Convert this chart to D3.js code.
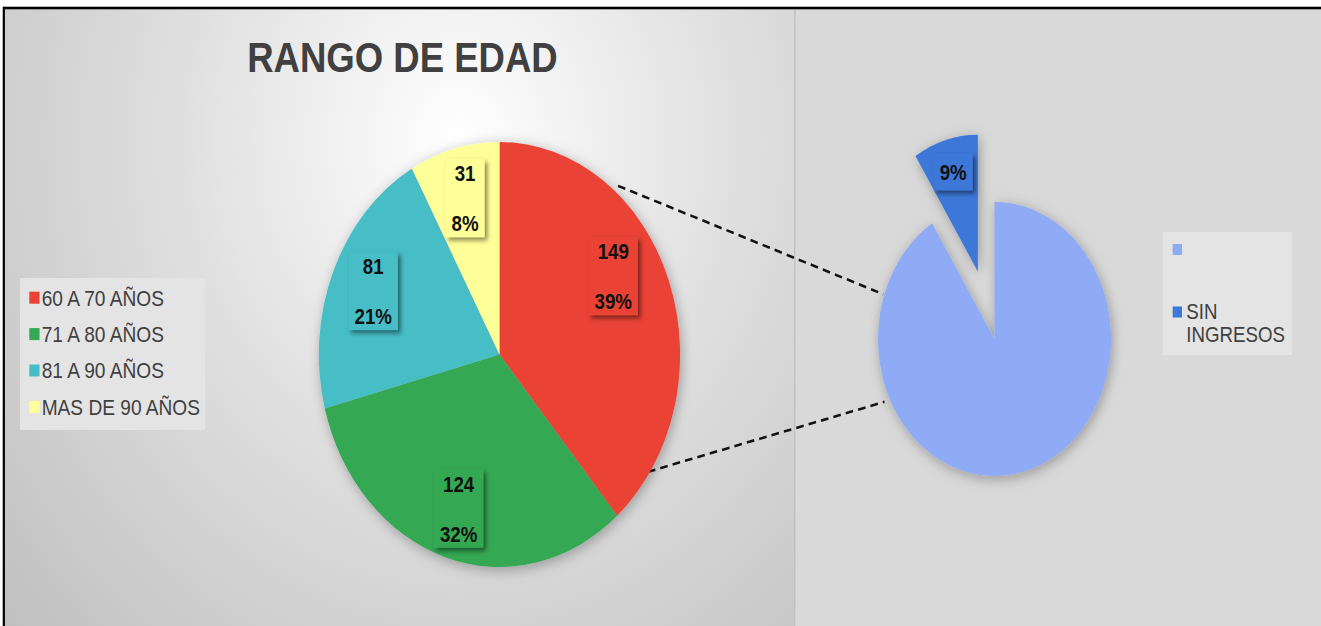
<!DOCTYPE html>
<html>
<head>
<meta charset="utf-8">
<script src="https://cdn.jsdelivr.net/npm/d3@7"></script>
<style>
body{margin:0;background:#fff;}
svg{display:block;font-family:"Liberation Sans",Arial,sans-serif;}
</style>
</head>
<body>
<div id="chart"></div>
<script>
// data
var title="RANGO DE EDAD";
var categories=["60 A 70 AÑOS","71 A 80 AÑOS","81 A 90 AÑOS","MAS DE 90 AÑOS"];
var counts=[149,124,81,31];
var colors=["#ea4335","#34a853","#46bdc6","#ffff99"];
var subNames=["","SIN INGRESOS"];
var subValues=[91,9];
var subColors=["#8fabf5","#3c78d8"];
var subShowLabel=[false,true];

var width=1321,height=626;
var sx=0.85;               // whole picture is squeezed horizontally
var lw=width/sx;           // logical width
var divx=935;
var main={cx:587.6,cy:354.5,r:212.5};
var sub={cx:1170,cy:339,r:137,explode:70};
var deg=Math.PI/180;

var svg=d3.select("#chart").append("svg")
	.attr("width",width).attr("height",height);
var defs=svg.append("defs");

var grad=defs.append("radialGradient").attr("id","bgleft")
	.attr("gradientUnits","userSpaceOnUse")
	.attr("cx",540).attr("cy",140).attr("r",720);
grad.append("stop").attr("offset",0).attr("stop-color","#ffffff");
grad.append("stop").attr("offset",0.45).attr("stop-color","#e0e0e0");
grad.append("stop").attr("offset",1).attr("stop-color","#c0c0c0");

var fpie=defs.append("filter").attr("id","pieshadow")
	.attr("x","-20%").attr("y","-20%").attr("width","140%").attr("height","140%");
fpie.append("feDropShadow").attr("dx",2).attr("dy",3).attr("stdDeviation",7)
	.attr("flood-color","#000").attr("flood-opacity",0.3);
var flab=defs.append("filter").attr("id","labshadow")
	.attr("x","-30%").attr("y","-30%").attr("width","170%").attr("height","170%");
flab.append("feDropShadow").attr("dx",3).attr("dy",3).attr("stdDeviation",2.4)
	.attr("flood-color","#000").attr("flood-opacity",0.5);

var g=svg.append("g").attr("transform","scale("+sx+",1)");

//==================backgrounds=======================
g.append("rect").attr("x",5.5).attr("y",9).attr("width",divx-5.5).attr("height",height)
	.attr("fill","url(#bgleft)");
g.append("rect").attr("x",divx).attr("y",9).attr("width",lw-divx).attr("height",height)
	.attr("fill","#d9d9d9");
g.append("line").attr("x1",divx).attr("x2",divx).attr("y1",9).attr("y2",height)
	.attr("stroke","#bdbdbd").attr("stroke-width",1.5);
g.append("rect").attr("x",4.5).attr("y",8).attr("width",lw+60).attr("height",height+60)
	.attr("fill","none").attr("stroke","#000").attr("stroke-width",2.6);

//==================title=======================
g.append("text").attr("x",473.5).attr("y",72).attr("text-anchor","middle")
	.attr("font-size",43).attr("font-weight","bold").attr("fill","#404040")
	.text(title);

function pt(c,r,a){return [c.cx+r*Math.sin(a),c.cy-r*Math.cos(a)];}

//==================connector lines=======================
var conn=[[pt(main,main.r*1.03,39.6*deg),pt(sub,sub.r*1.01,288.9*deg)],
	[pt(main,main.r*0.99,123.9*deg),pt(sub,sub.r*1.05,244.1*deg)]];
g.selectAll("line.conn").data(conn).enter().append("line").attr("class","conn")
	.attr("x1",function(d){return d[0][0];}).attr("y1",function(d){return d[0][1];})
	.attr("x2",function(d){return d[1][0];}).attr("y2",function(d){return d[1][1];})
	.attr("stroke","#111").attr("stroke-width",2.6).attr("stroke-dasharray","9,6");

//==================main pie=======================
var total=d3.sum(counts);
var pie=d3.pie().sort(null);
var arcs=pie(counts);
var arc=d3.arc().innerRadius(0).outerRadius(main.r);
var larc=d3.arc().innerRadius(main.r*0.76).outerRadius(main.r*0.76);

var mg=g.append("g").attr("transform","translate("+main.cx+","+main.cy+")");
mg.append("g").attr("filter","url(#pieshadow)").selectAll("path").data(arcs)
	.enter().append("path")
	.attr("d",arc).attr("fill",function(d,i){return colors[i];});

function drawLabel(parent,pos,lines,fill){
	var lg=parent.append("g").attr("transform","translate("+pos[0]+","+pos[1]+")");
	var box=lg.append("rect").attr("fill",fill).attr("filter","url(#labshadow)");
	var n=lines.length,gap=50;
	var ts=lines.map(function(s,k){
		return lg.append("text").attr("text-anchor","middle")
			.attr("y",(k-(n-1)/2)*gap+8)
			.attr("font-size",22).attr("font-weight","bold").attr("fill","#111")
			.text(s);
	});
	var w=d3.max(ts,function(t){return t.node().getComputedTextLength();})+14;
	var h=n==1?37:78;
	box.attr("x",-w/2).attr("y",-h/2).attr("width",w).attr("height",h);
}
arcs.forEach(function(d,i){
	var pct=Math.round(d.data/total*100)+"%";
	var c=larc.centroid(d);
	// first slice label sits a bit higher, like the original
	if(i==0){c=d3.arc().innerRadius(main.r*0.73).outerRadius(main.r*0.73)
		.centroid({startAngle:d.startAngle,endAngle:d.endAngle-0.35});}
	drawLabel(mg,c,[d.data,pct],colors[i]);
});

//==================sub pie=======================
var subTotal=d3.sum(subValues);
var sarcs=pie(subValues);
var sarc=d3.arc().innerRadius(0).outerRadius(sub.r);
var slarc=d3.arc().innerRadius(sub.r*0.76).outerRadius(sub.r*0.76);
var sg=g.append("g").attr("transform","translate("+sub.cx+","+sub.cy+")");
function off(d,i){
	if(i==0){return [0,0];}
	var a=(d.startAngle+d.endAngle)/2;
	return [sub.explode*Math.sin(a),-sub.explode*Math.cos(a)];
}
sg.append("g").attr("filter","url(#pieshadow)").selectAll("path").data(sarcs)
	.enter().append("path")
	.attr("transform",function(d,i){var o=off(d,i);return "translate("+o[0]+","+o[1]+")";})
	.attr("d",sarc).attr("fill",function(d,i){return subColors[i];});
sarcs.forEach(function(d,i){
	if(!subShowLabel[i]){return;}
	var o=off(d,i),c=slarc.centroid(d);
	drawLabel(sg,[c[0]+o[0],c[1]+o[1]],[Math.round(d.data/subTotal*100)+"%"],subColors[i]);
});

//==================legends=======================
var leg=g.append("g");
leg.append("rect").attr("x",23.5).attr("y",278).attr("width",218).attr("height",152)
	.attr("fill","#e4e4e4");
var items=leg.selectAll("g").data(categories).enter().append("g")
	.attr("transform",function(d,i){return "translate(34.5,"+(297.7+i*36.4)+")";});
items.append("rect").attr("x",0).attr("y",-6).attr("width",12).attr("height",12)
	.attr("fill",function(d,i){return colors[i];});
items.append("text").attr("x",14.5).attr("y",7.8).attr("font-size",22.5).attr("fill","#404040")
	.text(function(d){return d;});

var leg2=g.append("g");
leg2.append("rect").attr("x",1368).attr("y",232).attr("width",152).attr("height",123)
	.attr("fill","#e4e4e4");
var items2=leg2.selectAll("g").data(subNames).enter().append("g")
	.attr("transform",function(d,i){return "translate(1379.6,"+(249.5+i*62.5)+")";});
items2.append("rect").attr("x",0).attr("y",-5.5).attr("width",11).attr("height",11)
	.attr("fill",function(d,i){return subColors[i];});
items2.append("text").attr("x",16).attr("y",7.3).attr("font-size",22).attr("fill","#404040")
	.each(function(d){
		var t=d3.select(this);
		d.split(" ").filter(function(s){return s.length;}).forEach(function(w,k){
			t.append("tspan").attr("x",16).attr("dy",k==0?0:23).text(w);
		});
	});
</script>
</body>
</html>
